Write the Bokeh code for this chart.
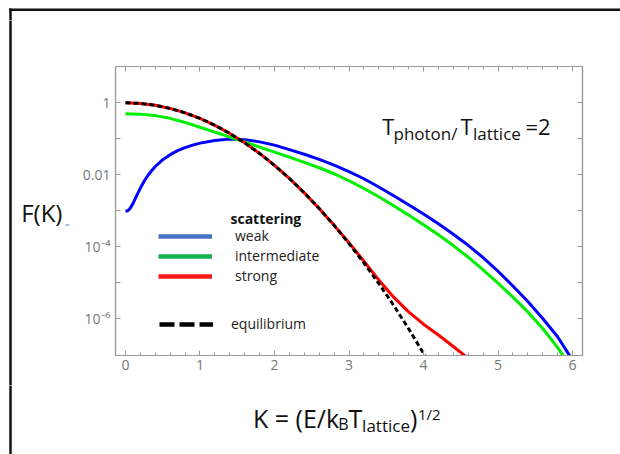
import numpy as np
from bokeh.plotting import figure
from bokeh.layouts import column, row
from bokeh.models import (Range1d, LogAxis, LinearAxis, FixedTicker, SingleIntervalTicker,
                          CustomJSTickFormatter, Label, Legend, LegendItem, BoxAnnotation)
from bokeh.embed import file_html
from bokeh.resources import INLINE

# ---------------- data ----------------
k_weak = [0.0, 0.03, 0.06, 0.1, 0.15, 0.2, 0.25, 0.3, 0.35, 0.4, 0.5, 0.6, 0.7, 0.8, 0.9,
          1.0, 1.2, 1.4, 1.6, 1.8, 2.0, 2.2, 2.4, 2.6, 2.8, 3.0, 3.2, 3.4, 3.6, 3.8, 4.0,
          4.2, 4.4, 4.6, 4.8, 5.0, 5.2, 5.4, 5.6, 5.8, 6.0]
f_weak = [9.77e-4, 1.0e-3, 1.15e-3, 1.58e-3, 2.63e-3, 4.27e-3, 6.61e-3, 9.55e-3, 1.29e-2,
          1.70e-2, 2.63e-2, 3.63e-2, 4.68e-2, 5.69e-2, 6.68e-2, 7.59e-2, 9.02e-2, 9.82e-2,
          9.44e-2, 8.22e-2, 6.68e-2, 5.01e-2, 3.72e-2, 2.69e-2, 1.86e-2, 1.23e-2, 7.76e-3,
          4.57e-3, 2.63e-3, 1.48e-3, 8.13e-4, 4.37e-4, 2.24e-4, 1.10e-4, 5.01e-5, 2.09e-5,
          8.13e-6, 3.02e-6, 1.02e-6, 3.16e-7, 7.08e-8]

k_int = [0.0, 0.2, 0.4, 0.6, 0.8, 1.0, 1.2, 1.4, 1.6, 1.8, 2.0, 2.2, 2.4, 2.6, 2.8, 3.0,
         3.2, 3.4, 3.6, 3.8, 4.0, 4.2, 4.4, 4.6, 4.8, 5.0, 5.2, 5.4, 5.6, 5.8, 6.0]
f_int = [0.494, 0.481, 0.441, 0.370, 0.285, 0.209, 0.153, 0.112, 0.0822, 0.0589, 0.0427,
         0.0309, 0.0221, 0.0157, 0.0107, 6.84e-3, 4.17e-3, 2.45e-3, 1.38e-3, 7.59e-4,
         4.07e-4, 2.16e-4, 1.08e-4, 5.13e-5, 2.29e-5, 9.77e-6, 3.98e-6, 1.55e-6, 5.37e-7,
         1.58e-7, 3.98e-8]

k_strong = [0.0, 0.2, 0.4, 0.6, 0.8, 1.0, 1.2, 1.4, 1.6, 1.8, 2.0, 2.2, 2.4, 2.6, 2.8,
            3.0, 3.2, 3.4, 3.6, 3.8, 4.0, 4.2, 4.4, 4.6]
f_strong = [1.0, 0.961, 0.852, 0.698, 0.527, 0.368, 0.237, 0.141, 0.0773, 0.0392, 0.0183,
            7.9e-3, 3.15e-3, 1.16e-3, 3.94e-4, 1.29e-4, 3.98e-5, 1.20e-5, 3.98e-6, 1.55e-6,
            7.08e-7, 3.55e-7, 1.70e-7, 7.94e-8]

k_eq = [0.0, 0.2, 0.4, 0.6, 0.8, 1.0, 1.2, 1.4, 1.6, 1.8, 2.0, 2.2, 2.4, 2.6, 2.8, 3.0,
        3.2, 3.4, 3.6, 3.8, 4.0, 4.05]
f_eq = [1.0, 0.961, 0.852, 0.698, 0.527, 0.368, 0.237, 0.141, 0.0773, 0.0392, 0.0183,
        7.9e-3, 3.15e-3, 1.16e-3, 3.94e-4, 1.23e-4, 3.57e-5, 9.6e-6, 2.35e-6, 5.3e-7,
        1.1e-7, 7.5e-8]

series_names = ["weak", "intermediate", "strong"]
legend_title = "scattering"
eq_name = "equilibrium"

ytick_marks = [1.0, 0.1, 0.01, 1e-3, 1e-4, 1e-5, 1e-6]
ytick_values = [1.0, 0.01, 1e-4, 1e-6]
ytick_labels = ["1", "0.01", "10\u207b\u2074", "10\u207b\u2076"]

# ---------------- styling / layout ----------------
FONT = "Open Sans"
FRAME = "#9a9a9a"
TICKLAB = "#777777"
INK = "#111111"

TOTAL_W, TOTAL_H = 620, 454
TOP_H, LEFT_W, MID_H = 20, 72, 365
BOT_H = TOTAL_H - TOP_H - MID_H
MAIN_W = TOTAL_W - LEFT_W

p = figure(width=MAIN_W, height=MID_H, x_range=Range1d(-0.134, 6.134),
           y_range=Range1d(9.55e-8, 10.2), y_axis_type="log", title=None,
           output_backend="svg", toolbar_location=None,
           min_border_left=43, min_border_right=38, min_border_top=46, min_border_bottom=30)
p.frame_align = False
p.grid.visible = False
p.outline_line_color = FRAME
p.outline_line_width = 1.2

xt = SingleIntervalTicker(interval=1, num_minor_ticks=5)
yt = FixedTicker(ticks=ytick_marks)
yfmt = CustomJSTickFormatter(args=dict(vals=ytick_values, labs=ytick_labels), code="""
for (let i = 0; i < vals.length; i++) {
  if (Math.abs(Math.log10(vals[i]) - Math.log10(tick)) < 1e-6) return labs[i];
}
return "";
""")
blank = CustomJSTickFormatter(code='return "";')


def style_axis(ax, show_labels=True):
    ax.axis_line_color = FRAME
    ax.axis_line_width = 1.2
    ax.major_tick_line_color = FRAME
    ax.minor_tick_line_color = FRAME
    ax.major_tick_in = 5
    ax.major_tick_out = 0
    ax.minor_tick_in = 3
    ax.minor_tick_out = 0
    ax.major_label_text_font = FONT
    ax.major_label_text_color = TICKLAB
    ax.major_label_text_font_size = "14px"
    ax.major_label_standoff = 5
    if not show_labels:
        ax.formatter = blank
        ax.major_label_text_alpha = 0
        ax.major_label_standoff = 0


p.xaxis.ticker = xt
p.yaxis.ticker = yt
p.yaxis.formatter = yfmt
style_axis(p.xaxis[0])
style_axis(p.yaxis[0])
p.xaxis.major_label_standoff = 4

top_ax = LinearAxis(ticker=xt)
style_axis(top_ax, False)
p.add_layout(top_ax, "above")
right_ax = LogAxis(ticker=yt)
style_axis(right_ax, False)
p.add_layout(right_ax, "right")

# ---------------- curves ----------------
p.line(k_weak, f_weak, line_color="#0000ff", line_width=3)
p.line(k_int, f_int, line_color="#00ee00", line_width=3)
p.line(k_strong, f_strong, line_color="#ff0000", line_width=3)
p.line(k_eq, f_eq, line_color="#000000", line_width=3, line_dash="5 3")

# ---------------- legend (legend-only renderers, nothing drawn in the plot) ----------------
nan1 = [float("nan")]
lg_w = p.line(nan1, nan1, line_color="#4472c4", line_width=4.5)
lg_i = p.line(nan1, nan1, line_color="#12b04c", line_width=4.5)
lg_s = p.line(nan1, nan1, line_color="#ff1a1a", line_width=4.5)
lg_e = p.line(nan1, nan1, line_color="#000000", line_width=4.5, line_dash="15 5")

common = dict(orientation="vertical", glyph_width=54, glyph_height=18, label_height=18,
              spacing=1, padding=0, margin=0, border_line_alpha=0, background_fill_alpha=0,
              label_text_font=FONT, label_text_font_size="14px", label_text_color="#222222")
leg1 = Legend(items=[LegendItem(label=n, renderers=[r]) for n, r in
                     zip(series_names, [lg_w, lg_i, lg_s])],
              location=(43, 70), label_standoff=23, **common)
leg2 = Legend(items=[LegendItem(label=eq_name, renderers=[lg_e])],
              location=(44, 22), label_standoff=18, **common)
p.add_layout(leg1)
p.add_layout(leg2)


def lab(fig, text, x, y, size, bold=False, color=INK, align="left", baseline="alphabetic",
        units="data"):
    fig.add_layout(Label(x=x, y=y, x_units=units, y_units=units, text=text,
                         text_font=FONT, text_font_size=f"{size}px",
                         text_font_style="bold" if bold else "normal",
                         text_color=color, text_align=align, text_baseline=baseline))


# texts inside the frame (screen units from frame bottom-left)
lab(p, legend_title, 115, 136.7, 14, bold=True, units="screen")
lab(p, "T", 266.7, 230, 22, units="screen")
lab(p, "photon/", 278, 222.3, 17, units="screen")
lab(p, "T", 345, 230, 22, units="screen")
lab(p, "lattice", 357.5, 222.3, 17, units="screen")
lab(p, "=2", 410, 230, 22, units="screen")


# ---------------- surrounding strips (pixel-space figures) ----------------
def strip(w, h):
    s = figure(width=w, height=h, x_range=Range1d(0, w), y_range=Range1d(h, 0),
               x_axis_type=None, y_axis_type=None, title=None, output_backend="svg",
               toolbar_location=None, min_border=0, min_border_left=0,
               min_border_right=0, min_border_top=0, min_border_bottom=0,
               outline_line_color=None)
    s.frame_align = False
    s.grid.visible = False
    return s


def bar(fig, left, right, top, bottom):
    fig.add_layout(BoxAnnotation(left=left, right=right, top=top, bottom=bottom,
                                 fill_color=INK, fill_alpha=1, line_alpha=0))


top = strip(TOTAL_W, TOP_H)
bar(top, 8.75, TOTAL_W + 5, 8.05, 10.55)    # top edge of the page border
bar(top, 8.75, 11.25, 8.05, TOP_H + 5)      # left edge (upper piece)

left = strip(LEFT_W, MID_H)
bar(left, 8.75, 11.25, -5, MID_H + 5)
lab(left, "F(K)", 20.7, 191.7, 24)
lab(left, "=", 66.7, 203.3, 8, color="#5b8fd0", align="center", baseline="middle")

bottom = strip(TOTAL_W, BOT_H)
bar(bottom, 8.75, 11.25, -5, BOT_H + 5)
# K = (E/k_B T_lattice)^{1/2}
lab(bottom, "K = (E/k", 252.5, 32.3, 25)
lab(bottom, "B", 337.7, 38.3, 16)
lab(bottom, "T", 348, 32.3, 25)
lab(bottom, "lattice", 361.6, 40, 17)
lab(bottom, ")", 409.5, 32.3, 25)
lab(bottom, "1/2", 417.5, 28, 15)

layout = column(top, row(left, p), bottom)

open("out.html", "w").write(file_html(layout, INLINE))
